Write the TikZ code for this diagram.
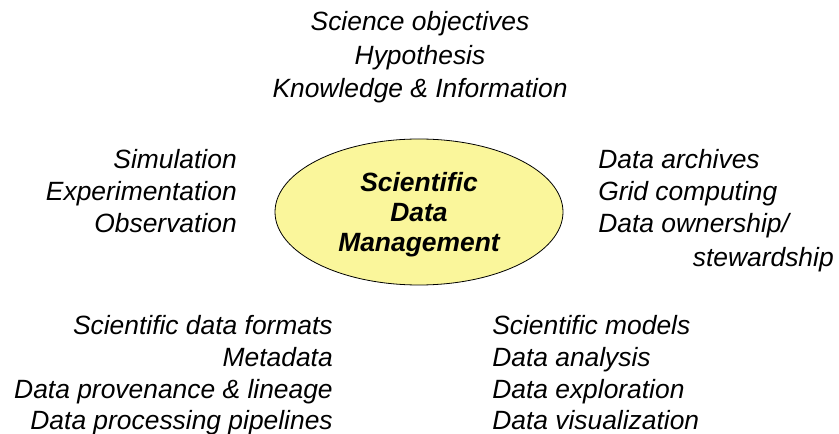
\documentclass[tikz,border=0pt]{standalone}
\usepackage{fontspec}
\setmainfont{Liberation Sans}
\usetikzlibrary{shapes.geometric}
\begin{document}
\begin{tikzpicture}[x=0.75pt,y=-0.75pt,
  lbl/.style={inner sep=0pt,font=\fontsize{19.8}{24}\selectfont\itshape},
  hub/.style={draw=black,line width=0.6pt,fill=hubfill,ellipse,inner sep=0pt,
              minimum width=216pt,minimum height=109.5pt},
  hubtext/.style={inner sep=0pt,font=\fontsize{19.8}{24}\selectfont\bfseries\itshape}]
\definecolor{hubfill}{RGB}{250,246,155}
\useasboundingbox (0,0) rectangle (839,434);
% central ellipse and its title
\node[hub] (hub) at (419,212) {};
\node[hubtext,anchor=base] (h1) at (419,192) {Scientific};
\node[hubtext,anchor=base] (h2) at (419,222) {Data};
\node[hubtext,anchor=base] (h3) at (419,252) {Management};
% top group
\node[lbl,anchor=base] (t1) at (420,31) {Science objectives};
\node[lbl,anchor=base] (t2) at (420,65) {Hypothesis};
\node[lbl,anchor=base] (t3) at (420,98) {Knowledge \& Information};
% left group
\node[lbl,anchor=base east] (l1) at (237,169) {Simulation};
\node[lbl,anchor=base east] (l2) at (237,201) {Experimentation};
\node[lbl,anchor=base east] (l3) at (237,233) {Observation};
% right group
\node[lbl,anchor=base west] (r1) at (598,169) {Data archives};
\node[lbl,anchor=base west] (r2) at (598,201) {Grid computing};
\node[lbl,anchor=base west] (r3) at (598,233) {Data ownership/};
\node[lbl,anchor=base east] (r4) at (834,267) {stewardship};
% bottom-left group
\node[lbl,anchor=base east] (bl1) at (333,335) {Scientific data formats};
\node[lbl,anchor=base east] (bl2) at (333,367) {Metadata};
\node[lbl,anchor=base east] (bl3) at (333,399) {Data provenance \& lineage};
\node[lbl,anchor=base east] (bl4) at (333,430) {Data processing pipelines};
% bottom-right group
\node[lbl,anchor=base west] (br1) at (492,335) {Scientific models};
\node[lbl,anchor=base west] (br2) at (492,367) {Data analysis};
\node[lbl,anchor=base west] (br3) at (492,399) {Data exploration};
\node[lbl,anchor=base west] (br4) at (492,430) {Data visualization};
\end{tikzpicture}
\end{document}
